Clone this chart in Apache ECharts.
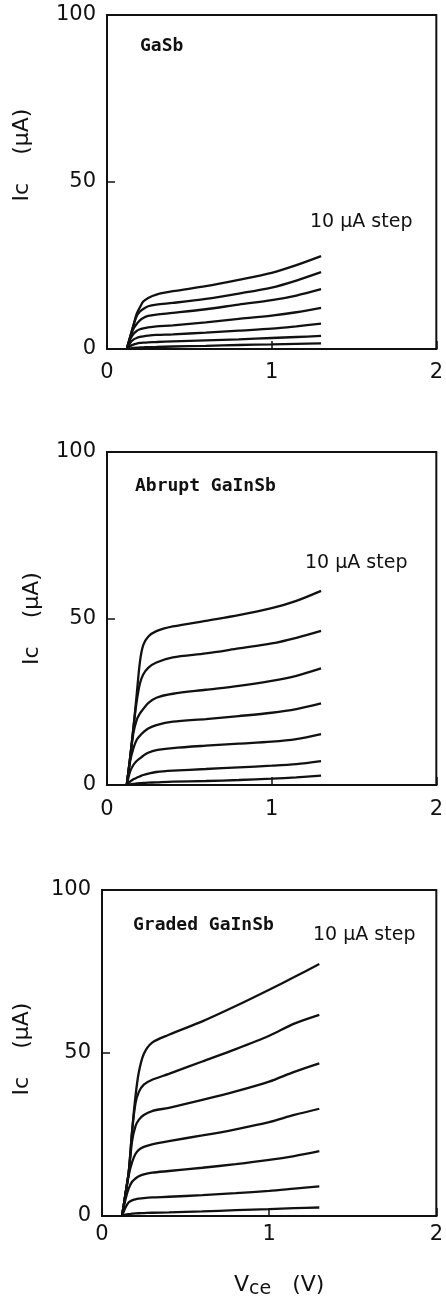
<!DOCTYPE html>
<html>
<head>
<meta charset="utf-8">
<script src="https://cdn.jsdelivr.net/npm/echarts@6/dist/echarts.min.js"></script>
<style>
  html, body { margin: 0; padding: 0; background: #fff; }
  #chart { width: 446px; height: 1300px; }
</style>
</head>
<body>
<div id="chart"></div>
<script>
// Shared collector-emitter voltage grid (V)
const vceGrid = [0.12, 0.14, 0.16, 0.18, 0.2, 0.22, 0.25, 0.3, 0.4, 0.6, 0.8, 1.0, 1.15, 1.3];

// Collector current (uA), one row per base-current step (top curve first)
const icGaSb = [
  [0, 3.5, 7, 10.5, 12.5, 14.2, 15.3, 16.3, 17.3, 18.8, 20.7, 22.8, 25.1, 27.8],
  [0, 3.5, 7, 9.8, 11.2, 12.0, 12.8, 13.3, 13.8, 15.0, 16.6, 18.4, 20.5, 23.0],
  [0, 3.3, 6, 7.5, 8.6, 9.3, 9.9, 10.3, 10.8, 11.9, 13.3, 14.6, 16.0, 17.9],
  [0, 2.8, 4.5, 5.4, 5.9, 6.2, 6.5, 6.8, 7.1, 8.0, 9.0, 10.0, 11.0, 12.3],
  [0, 1.8, 2.8, 3.3, 3.6, 3.8, 4.0, 4.2, 4.4, 4.9, 5.5, 6.1, 6.8, 7.6],
  [0, 0.8, 1.3, 1.6, 1.8, 1.9, 2.0, 2.1, 2.3, 2.6, 2.9, 3.3, 3.6, 3.9],
  [0, 0.2, 0.3, 0.4, 0.45, 0.5, 0.55, 0.6, 0.75, 0.95, 1.2, 1.4, 1.55, 1.7]
];
const icAbrupt = [
  [0, 8, 17, 27, 37, 42, 44.5, 46.2, 47.6, 49.3, 51, 53.1, 55.3, 58.3],
  [0, 8, 17, 25, 30.5, 33.2, 35.2, 36.8, 38.3, 39.5, 41, 42.5, 44.2, 46.3],
  [0, 8, 15.5, 19.5, 21.5, 22.8, 24.6, 26.2, 27.4, 28.6, 29.8, 31.3, 32.8, 35.0],
  [0, 7, 11, 13.5, 14.8, 15.8, 17, 18, 19, 19.8, 20.7, 21.7, 22.8, 24.5],
  [0, 4, 6, 7.2, 8, 8.8, 9.7, 10.5, 11.1, 11.8, 12.4, 13.0, 13.8, 15.3],
  [0, 1, 1.7, 2.2, 2.6, 3.0, 3.4, 3.9, 4.3, 4.8, 5.3, 5.8, 6.3, 7.2],
  [0, 0.2, 0.35, 0.45, 0.55, 0.6, 0.7, 0.8, 1.0, 1.2, 1.5, 1.9, 2.3, 2.8]
];
const icGraded = [
  [0, 6.7, 13.5, 26, 36.6, 44, 49.7, 53.2, 55.6, 59.7, 64.4, 69.4, 73.3, 77.3],
  [0, 6.7, 13.5, 26, 34.5, 38, 40.3, 41.8, 43.6, 47.4, 51.2, 55.3, 59, 61.7],
  [0, 6.7, 13.5, 23, 27.5, 29.5, 31, 32.2, 33.2, 35.6, 38.2, 41.2, 44.2, 46.8],
  [0, 6.5, 12.5, 16.5, 19, 20.3, 21.2, 22, 23, 24.7, 26.6, 28.8, 31, 32.9],
  [0, 5, 8.5, 10.5, 11.5, 12.2, 12.8, 13.3, 13.8, 14.8, 15.9, 17.2, 18.4, 19.9],
  [0, 2.5, 4.2, 4.8, 5.1, 5.3, 5.5, 5.7, 5.9, 6.4, 7.0, 7.7, 8.4, 9.1],
  [0, 0.4, 0.6, 0.7, 0.8, 0.85, 0.9, 1.0, 1.1, 1.4, 1.8, 2.1, 2.4, 2.6]
];

const panelNames = ['GaSb', 'Abrupt GaInSb', 'Graded GaInSb'];
const stepLabel = '10 \u03bcA step';
const yAxisTitle = 'Ic    (\u03bcA)';
const xAxisTitle = 'V{sub|ce}   (V)';

const panels = [icGaSb, icAbrupt, icGraded];
const INK = '#111';

const grids = [
  { left: 107, top: 15, width: 336, height: 334 },
  { left: 107, top: 452, width: 336, height: 333 },
  { left: 102, top: 890, width: 336, height: 332 }
];
const yNameGap = [74, 64, 69];
const yNamePad = [[0, 0, 0, 54], [0, 0, 0, 0], [0, 0, 0, 8]];
const xLabelMargin = [13, 14, 8];
const panelLabelPos = [[140, 37], [135, 477], [133, 916]];
const stepLabelPos = [[310, 213], [305, 554], [313, 926]];

const chart = echarts.init(document.getElementById('chart'), null, { renderer: 'canvas' });

const option = {
  backgroundColor: '#fff',
  animation: false,
  grid: grids.map(g => Object.assign({ show: true, borderColor: INK, borderWidth: 2, backgroundColor: 'transparent' }, g)),
  xAxis: grids.map((g, i) => ({
    type: 'value', gridIndex: i, min: 0, max: 2, interval: 1,
    axisLine: { show: true, lineStyle: { color: INK, width: 2 } },
    axisTick: { show: true, inside: true, length: 8, lineStyle: { color: INK, width: 1.5 } },
    axisLabel: { color: INK, fontFamily: 'DejaVu Sans', fontSize: 21, margin: xLabelMargin[i] },
    splitLine: { show: false },
    name: i === 2 ? xAxisTitle : '',
    nameLocation: 'middle',
    nameGap: 56,
    nameTextStyle: {
      color: INK, fontFamily: 'DejaVu Sans', fontSize: 22, padding: [0, 0, 0, 20],
      rich: { sub: { color: INK, fontFamily: 'DejaVu Sans', fontSize: 19, padding: [8, 0, 0, 0] } }
    }
  })),
  yAxis: grids.map((g, i) => ({
    type: 'value', gridIndex: i, min: 0, max: 100, interval: 50,
    axisLine: { show: true, lineStyle: { color: INK, width: 2 } },
    axisTick: { show: true, inside: true, length: 8, lineStyle: { color: INK, width: 1.5 } },
    axisLabel: { color: INK, fontFamily: 'DejaVu Sans', fontSize: 21, margin: 11 },
    splitLine: { show: false },
    name: yAxisTitle,
    nameLocation: 'middle',
    nameGap: yNameGap[i],
    nameTextStyle: { color: INK, fontFamily: 'DejaVu Sans', fontSize: 22, padding: yNamePad[i] }
  })),
  series: [],
  graphic: []
};

panels.forEach((curves, p) => {
  curves.forEach((ys) => {
    option.series.push({
      type: 'line',
      xAxisIndex: p, yAxisIndex: p,
      data: vceGrid.map((v, j) => [v, ys[j]]),
      showSymbol: false,
      smooth: 0.3,
      lineStyle: { color: INK, width: 2.3 },
      silent: true
    });
  });
  option.graphic.push({
    type: 'text', left: panelLabelPos[p][0], top: panelLabelPos[p][1],
    style: { text: panelNames[p], font: 'bold 18px "DejaVu Sans Mono"', fill: INK }
  });
  option.graphic.push({
    type: 'text', left: stepLabelPos[p][0], top: stepLabelPos[p][1],
    style: { text: stepLabel, font: '19px "DejaVu Sans"', fill: INK }
  });
});

chart.setOption(option);
</script>
</body>
</html>
